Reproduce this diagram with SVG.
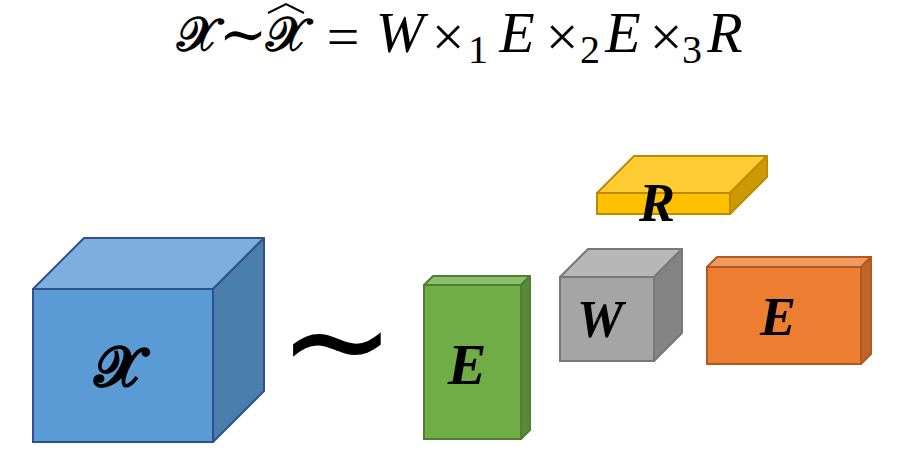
<svg xmlns="http://www.w3.org/2000/svg" width="900" height="463" viewBox="0 0 900 463">
<style>
.f{font-family:"Liberation Serif","DejaVu Serif",serif;font-style:italic;font-size:58px;fill:#000;text-anchor:middle}
.n{font-family:"Liberation Serif","DejaVu Serif",serif;font-style:normal;font-size:58px;fill:#000;text-anchor:middle}
.s{font-family:"Liberation Serif","DejaVu Serif",serif;font-style:normal;font-size:40px;fill:#000;text-anchor:middle}
.lbl{font-family:"Liberation Serif","DejaVu Serif",serif;font-style:italic;font-weight:bold;fill:#000;text-anchor:middle}
.sc{font-family:"DejaVu Serif","DejaVu Sans","Noto Sans",serif;font-weight:bold;fill:#000;text-anchor:middle}
</style>
<rect width="900" height="463" fill="#fff"/>
<g id="formula">
<text class="sc" x="197" y="51" font-size="48" font-weight="normal">𝒳</text>
<text class="n" x="243" y="54" font-size="46">∼</text>
<text class="sc" x="286" y="51" font-size="48" font-weight="normal">𝒳</text>
<path d="M268 13 L286 4 L304 13" fill="none" stroke="#000" stroke-width="2"/>
<text class="n" x="343" y="56" font-size="66">=</text>
<text class="f" x="400" y="52">W</text>
<text class="n" x="448" y="56" font-size="74">×</text>
<text class="s" x="478" y="63">1</text>
<text class="f" x="517" y="52">E</text>
<text class="n" x="562" y="56" font-size="74">×</text>
<text class="s" x="590" y="63">2</text>
<text class="f" x="623" y="52">E</text>
<text class="n" x="666" y="56" font-size="74">×</text>
<text class="s" x="692" y="63">3</text>
<text class="f" x="725" y="52">R</text>
</g>
<g id="X">
<rect x="33" y="289" width="180" height="153" fill="#5B9BD5" stroke="#2F528F" stroke-width="2"/>
<polygon points="33,289 84,238 264,238 213,289" fill="#7DAFDE" stroke="#2F528F" stroke-width="2" stroke-linejoin="round"/>
<polygon points="213,289 264,238 264,391 213,442" fill="#4A7EAD" stroke="#2F528F" stroke-width="2" stroke-linejoin="round"/>
<text class="sc" x="116" y="386" font-size="56">𝓧</text>
</g>
<g id="tilde">
<text x="337" y="389" font-family="DejaVu Sans" font-size="140" text-anchor="middle">~</text>
</g>
<g id="E1">
<rect x="424" y="285" width="97" height="154" fill="#70AD47" stroke="#507E32" stroke-width="2"/>
<polygon points="424,285 433,276 530,276 521,285" fill="#8CBF6A" stroke="#507E32" stroke-width="2" stroke-linejoin="round"/>
<polygon points="521,285 530,276 530,430 521,439" fill="#5A8A38" stroke="#507E32" stroke-width="2" stroke-linejoin="round"/>
<text class="lbl" x="467" y="384" font-size="58">E</text>
</g>
<g id="R">
<rect x="597" y="193" width="133" height="21" fill="#FFC000" stroke="#BC8C00" stroke-width="2"/>
<polygon points="597,193 634,156 767,156 730,193" fill="#FFCD33" stroke="#BC8C00" stroke-width="2" stroke-linejoin="round"/>
<polygon points="730,193 767,156 767,177 730,214" fill="#CC9A00" stroke="#BC8C00" stroke-width="2" stroke-linejoin="round"/>
<text class="lbl" x="657" y="221" font-size="54">R</text>
</g>
<g id="W">
<rect x="560" y="277" width="94" height="84" fill="#A5A5A5" stroke="#787878" stroke-width="2"/>
<polygon points="560,277 588,249 682,249 654,277" fill="#B7B7B7" stroke="#787878" stroke-width="2" stroke-linejoin="round"/>
<polygon points="654,277 682,249 682,333 654,361" fill="#848484" stroke="#787878" stroke-width="2" stroke-linejoin="round"/>
<text class="lbl" x="600" y="337" font-size="52">W</text>
</g>
<g id="E2">
<rect x="707" y="267" width="154" height="97" fill="#ED7D31" stroke="#AE5A21" stroke-width="2"/>
<polygon points="707,267 717,257 871,257 861,267" fill="#F19A60" stroke="#AE5A21" stroke-width="2" stroke-linejoin="round"/>
<polygon points="861,267 871,257 871,354 861,364" fill="#C0652A" stroke="#AE5A21" stroke-width="2" stroke-linejoin="round"/>
<text class="lbl" x="778" y="335" font-size="54">E</text>
</g>
<g id="connectors"/>
</svg>
